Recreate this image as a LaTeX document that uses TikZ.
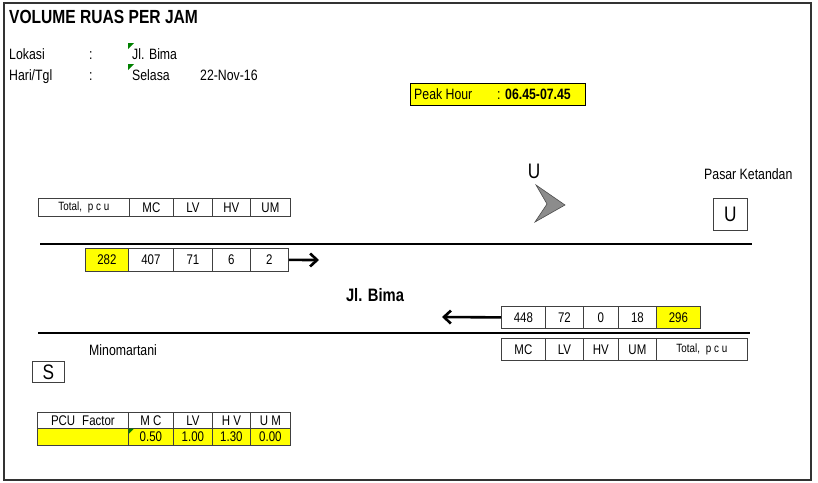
\documentclass[tikz,border=0pt]{standalone}
\usepackage{fontspec}
\setmainfont{Liberation Sans}[FakeStretch=0.82]
\usetikzlibrary{arrows.meta}
\definecolor{xlyellow}{RGB}{255,255,0}
\definecolor{xlgreen}{RGB}{0,128,0}
\newcommand{\fsz}[1]{\fontsize{#1}{#1}\selectfont}
\begin{document}
\begin{tikzpicture}[x=1pt,y=-1pt,
  txt/.style={inner sep=0pt,anchor=base west,font=\fsz{15}},
  cell/.style={draw=black!75,line width=0.8pt,inner sep=0pt,anchor=north west,font=\fsz{14}},
  hicell/.style={cell,fill=xlyellow},
  flowarrow/.style={line width=2.6pt,-{Straight Barb[length=7pt,width=13pt]}},
  road/.style={line width=2pt},
  greenmark/.style={fill=xlgreen},
  dirbox/.style={draw=black!75,line width=0.8pt,inner sep=0pt,font=\fsz{21}}]
\useasboundingbox (0,0) rectangle (818,482);
% frame
\draw[line width=1.5pt,black!80] (4,3) rectangle (811,480);
% header texts
\node[txt,font=\bfseries\fsz{19}] (title) at (9,23) {VOLUME RUAS PER JAM};
\node[txt] (lok) at (9,59) {Lokasi};
\node[txt] (lokc) at (89,59) {:};
\node[txt] (lokv) at (132,59) {Jl. Bima};
\node[txt] (hari) at (9,80) {Hari/Tgl};
\node[txt] (haric) at (89,80) {:};
\node[txt] (hariv) at (132,80) {Selasa};
\node[txt] (tgl) at (200,80) {22-Nov-16};
\fill[greenmark] (128,43) -- (134,43) -- (128,49) -- cycle;
\fill[greenmark] (128,64) -- (134,64) -- (128,70) -- cycle;
% peak hour
\node[draw=black,line width=1pt,fill=xlyellow,anchor=north west,inner sep=0pt,minimum width=175pt,minimum height=22pt] (peak) at (410,83) {};
\node[txt,font=\fsz{15}] (peakl) at (414,99) {Peak Hour};
\node[txt,font=\fsz{15}] (peakv) at (497,99) {: \textbf{06.45-07.45}};
% north indicator
\node[inner sep=0pt,anchor=base,font=\fsz{21}] (ulbl) at (534,178) {U};
\filldraw[fill=black!45,draw=black!70,line width=0.6pt] (536,185) -- (565,205) -- (535,222) -- (547,204) -- cycle;
\node[txt] (pasar) at (704,179) {Pasar Ketandan};
\node[dirbox,anchor=north west,minimum width=34pt,minimum height=32pt] (ubox) at (713,198) {U};
% top header
\node[cell,minimum width=91pt,minimum height=18pt,font=\fsz{12}] (th1) at (38,198) {Total,\enspace p c u};
\node[cell,minimum width=44pt,minimum height=18pt] (th2) at (129,198) {MC};
\node[cell,minimum width=39pt,minimum height=18pt] (th3) at (173,198) {LV};
\node[cell,minimum width=38pt,minimum height=18pt] (th4) at (212,198) {HV};
\node[cell,minimum width=40pt,minimum height=18pt] (th5) at (250,198) {UM};
% top road line
\coordinate (r1a) at (40,244);
\coordinate (r1b) at (752,244);
\draw[road] (r1a) -- (r1b);
% top data
\node[hicell,minimum width=43pt,minimum height=23pt] (td1) at (85,248) {282};
\node[cell,minimum width=45pt,minimum height=23pt] (td2) at (128,248) {407};
\node[cell,minimum width=39pt,minimum height=23pt] (td3) at (173,248) {71};
\node[cell,minimum width=38pt,minimum height=23pt] (td4) at (212,248) {6};
\node[cell,minimum width=38pt,minimum height=23pt] (td5) at (250,248) {2};
\coordinate (a1) at (319,260);
\draw[flowarrow] (td5.east) -- (a1);
% road name
\node[inner sep=0pt,anchor=base,font=\bfseries\fsz{18}] (road) at (375,301) {Jl. Bima};
% bottom data
\node[cell,minimum width=44pt,minimum height=22pt] (bd1) at (501,306) {448};
\node[cell,minimum width=38pt,minimum height=22pt] (bd2) at (545,306) {72};
\node[cell,minimum width=35pt,minimum height=22pt] (bd3) at (583,306) {0};
\node[cell,minimum width=38pt,minimum height=22pt] (bd4) at (618,306) {18};
\node[hicell,minimum width=44pt,minimum height=22pt] (bd5) at (656,306) {296};
\coordinate (a2) at (442,317);
\draw[flowarrow] (bd1.west) -- (a2);
% bottom road line
\coordinate (r2a) at (38,333);
\coordinate (r2b) at (750,333);
\draw[road] (r2a) -- (r2b);
% bottom header
\node[cell,minimum width=44pt,minimum height=22pt] (bh1) at (501,338) {MC};
\node[cell,minimum width=38pt,minimum height=22pt] (bh2) at (545,338) {LV};
\node[cell,minimum width=35pt,minimum height=22pt] (bh3) at (583,338) {HV};
\node[cell,minimum width=38pt,minimum height=22pt] (bh4) at (618,338) {UM};
\node[cell,minimum width=91pt,minimum height=22pt,font=\fsz{12}] (bh5) at (656,338) {Total,\enspace p c u};
% south
\node[txt] (mino) at (89,355) {Minomartani};
\node[dirbox,anchor=north west,minimum width=32pt,minimum height=21pt] (sbox) at (32,361) {S};
% PCU factor table
\node[cell,minimum width=91pt,minimum height=16pt] (p1) at (37,412) {PCU\enspace Factor};
\node[cell,minimum width=45pt,minimum height=16pt] (p2) at (128,412) {M C};
\node[cell,minimum width=39pt,minimum height=16pt] (p3) at (173,412) {LV};
\node[cell,minimum width=38pt,minimum height=16pt] (p4) at (212,412) {H V};
\node[cell,minimum width=40pt,minimum height=16pt] (p5) at (250,412) {U M};
\node[hicell,minimum width=91pt,minimum height=17pt] (f1) at (37,428) {};
\node[hicell,minimum width=45pt,minimum height=17pt] (f2) at (128,428) {0.50};
\node[hicell,minimum width=39pt,minimum height=17pt] (f3) at (173,428) {1.00};
\node[hicell,minimum width=38pt,minimum height=17pt] (f4) at (212,428) {1.30};
\node[hicell,minimum width=40pt,minimum height=17pt] (f5) at (250,428) {0.00};
\fill[greenmark] (128.5,428.5) -- (134,428.5) -- (128.5,434) -- cycle;
\end{tikzpicture}
\end{document}
